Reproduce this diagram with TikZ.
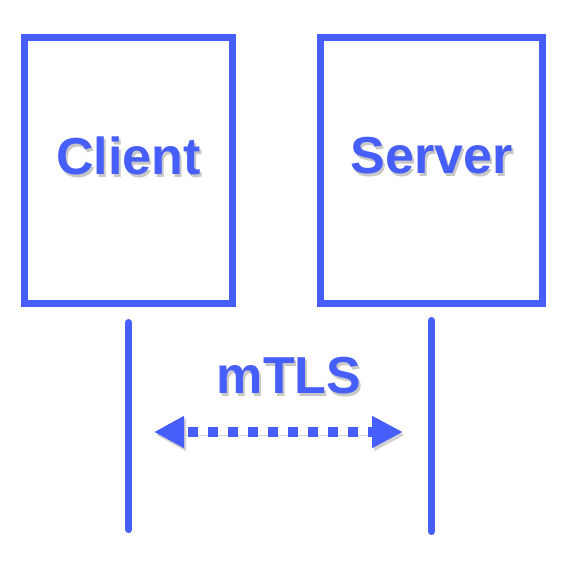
\documentclass[tikz,border=0pt]{standalone}
\usepackage{fontspec}
\setmainfont{Liberation Sans}
\usetikzlibrary{arrows.meta}

\definecolor{linkblue}{RGB}{70,94,250}
% text with a soft grey shadow behind it
\newcommand{\shadowed}[1]{\makebox[0pt][l]{\hspace{2pt}\raisebox{-3pt}{\color{black!22}#1}}#1}

\begin{document}
\begin{tikzpicture}[x=1pt, y=-1pt,
    party/.style={draw=linkblue, line width=7pt, minimum width=208pt, minimum height=266pt, inner sep=0pt},
    label/.style={text=linkblue, font=\fontsize{52}{60}\selectfont\bfseries, inner sep=0pt},
    drop/.style={preaction={draw=black!18, transform canvas={shift={(2pt,-3pt)}}}},
    wire/.style={draw=linkblue, line width=7pt, line cap=round, drop}]
    \useasboundingbox (0,0) rectangle (570,570);

    % Draw the two boxes
    \node[party] (client) at (128.5,170.5) {};
    \node[party, minimum width=222pt] (server) at (431.5,170.5) {};
    \node[label] (clientname) at ([yshift=13.5pt]client.center) {\shadowed{Client}};
    \node[label] (servername) at ([yshift=13.5pt]server.center) {\shadowed{Server}};

    % Draw the life lines
    \coordinate (clienttop) at (128.5,322.5);
    \coordinate (clientbot) at (128.5,529.5);
    \coordinate (servertop) at (431.5,320.5);
    \coordinate (serverbot) at (431.5,531.5);
    \draw[wire] (clienttop) -- (clientbot);
    \draw[wire] (servertop) -- (serverbot);

    % Add the handshake arrow
    \node[label] (mtls) at (289,377.5) {\shadowed{mTLS}};
    \coordinate (left) at (154,432);
    \coordinate (right) at (403,432);
    \draw[draw=linkblue, line width=10pt, dash pattern=on 10pt off 10pt, dash phase=14pt, drop,
        {Triangle[length=30pt,width=30pt]}-{Triangle[length=31pt,width=30pt]}] (left) -- (right);
\end{tikzpicture}
\end{document}
